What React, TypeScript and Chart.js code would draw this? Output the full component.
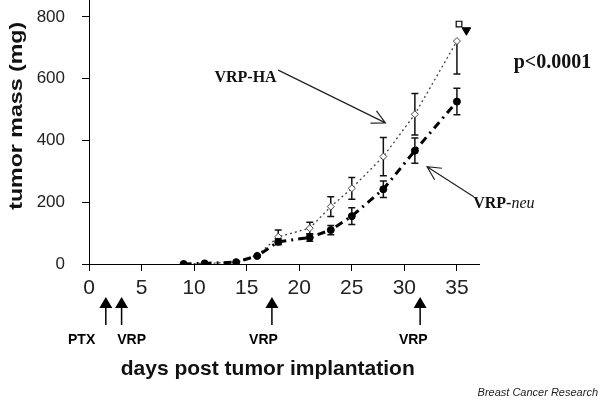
import React, { useEffect, useRef } from "react";
import { Chart, registerables } from "chart.js";

Chart.register(...registerables);

// ---- data ----
const days = [9, 11, 14, 16, 18, 21, 23, 25, 28, 31, 35];
const haMass = [0, 2, 5, 28, 88, 116, 186, 245, 348, 485, 722];
const haErrUp = [0, 0, 0, 0, 22, 19, 32, 35, 62, 67, 0];
const haErrDown = [0, 0, 0, 0, 22, 19, 32, 35, 62, 67, 107];
const neuMass = [0, 2, 6, 26, 72, 86, 110, 155, 242, 367, 526];
const neuErr = [0, 0, 0, 0, 10, 12, 15, 27, 27, 41, 43];

const squareMarker = [{ x: 35.2, y: 777 }];
const triangleMarker = [{ x: 35.9, y: 757 }];

const treatmentDays = [1.6, 3.1, 17.4, 31.5];
const treatmentLabels = ["PTX", "VRP", "VRP", "VRP"];
const treatmentLabelDays = [-0.7, 4.05, 16.6, 30.85];

const xTitle = "days post tumor implantation";
const yTitle = "tumor mass (mg)";
const pValueText = "p<0.0001";
const sourceText = "Breast Cancer Research";

// annotation anchors in data units [day, mass]
const haArrow = [18.0, 628, 28.2, 457];
const neuArrow = [36.6, 218, 32.16, 315];
const haLabelAt = [17.85, 589];
const neuLabelAt = [36.55, 181];
const pValueAt = [40.4, 635];

function drawArrow(ctx: CanvasRenderingContext2D, x1: number, y1: number, x2: number, y2: number) {
  const ang = Math.atan2(y1 - y2, x1 - x2);
  const len = 15;
  const spread = (27 * Math.PI) / 180;
  ctx.beginPath();
  ctx.moveTo(x1, y1);
  ctx.lineTo(x2, y2);
  ctx.moveTo(x2 + len * Math.cos(ang + spread), y2 + len * Math.sin(ang + spread));
  ctx.lineTo(x2, y2);
  ctx.lineTo(x2 + len * Math.cos(ang - spread), y2 + len * Math.sin(ang - spread));
  ctx.stroke();
}

const overlay = {
  id: "overlay",
  beforeDatasetsDraw(chart: any) {
    const ctx: CanvasRenderingContext2D = chart.ctx;
    const xs = chart.scales.x;
    const ys = chart.scales.y;
    ctx.save();
    ctx.strokeStyle = "#111";
    ctx.lineWidth = 1.5;
    const cap = 3.5;
    const bars = (mass: number[], up: number[], down: number[]) => {
      mass.forEach((m, i) => {
        if (!up[i] && !down[i]) return;
        const x = xs.getPixelForValue(days[i]);
        const yT = ys.getPixelForValue(m + up[i]);
        const yB = ys.getPixelForValue(m - down[i]);
        ctx.beginPath();
        ctx.moveTo(x, yT);
        ctx.lineTo(x, yB);
        if (up[i]) {
          ctx.moveTo(x - cap, yT);
          ctx.lineTo(x + cap, yT);
        }
        if (down[i]) {
          ctx.moveTo(x - cap, yB);
          ctx.lineTo(x + cap, yB);
        }
        ctx.stroke();
      });
    };
    bars(haMass, haErrUp, haErrDown);
    bars(neuMass, neuErr, neuErr);
    ctx.restore();
  },
  afterDraw(chart: any) {
    const ctx: CanvasRenderingContext2D = chart.ctx;
    const xs = chart.scales.x;
    const ys = chart.scales.y;
    const area = chart.chartArea;
    const px = (d: number) => xs.getPixelForValue(d);
    const py = (v: number) => ys.getPixelForValue(v);
    ctx.save();

    // arrows
    ctx.strokeStyle = "#222";
    ctx.lineWidth = 1.2;
    drawArrow(ctx, px(haArrow[0]), py(haArrow[1]), px(haArrow[2]), py(haArrow[3]));
    drawArrow(ctx, px(neuArrow[0]), py(neuArrow[1]), px(neuArrow[2]), py(neuArrow[3]));

    // serif labels
    ctx.fillStyle = "#111";
    ctx.textBaseline = "alphabetic";
    ctx.font = 'bold 16px "Liberation Serif", "Times New Roman", serif';
    ctx.textAlign = "right";
    ctx.fillText("VRP-HA", px(haLabelAt[0]), py(haLabelAt[1]));
    ctx.textAlign = "left";
    const nx = px(neuLabelAt[0]);
    const ny = py(neuLabelAt[1]);
    ctx.fillText("VRP-", nx, ny);
    const w1 = ctx.measureText("VRP-").width;
    ctx.font = 'italic 16px "Liberation Serif", "Times New Roman", serif';
    ctx.fillText("neu", nx + w1, ny);
    ctx.font = 'bold 20px "Liberation Serif", "Times New Roman", serif';
    ctx.fillText(pValueText, px(pValueAt[0]), py(pValueAt[1]));

    // treatment arrows below axis
    const b = area.bottom;
    ctx.fillStyle = "#000";
    ctx.strokeStyle = "#000";
    ctx.lineWidth = 1.5;
    treatmentDays.forEach((d) => {
      const x = px(d);
      ctx.beginPath();
      ctx.moveTo(x, b + 33);
      ctx.lineTo(x - 6.5, b + 44);
      ctx.lineTo(x + 6.5, b + 44);
      ctx.closePath();
      ctx.fill();
      ctx.beginPath();
      ctx.moveTo(x, b + 44);
      ctx.lineTo(x, b + 61);
      ctx.stroke();
    });
    ctx.font = 'bold 14px "Liberation Sans", Arial, sans-serif';
    ctx.textAlign = "center";
    ctx.textBaseline = "middle";
    treatmentLabels.forEach((t, i) => {
      ctx.fillText(t, px(treatmentLabelDays[i]), b + 76);
    });

    // x title
    ctx.fillStyle = "#111";
    ctx.font = 'bold 21px "Liberation Sans", Arial, sans-serif';
    ctx.textAlign = "center";
    ctx.textBaseline = "alphabetic";
    ctx.fillText(xTitle, px(17), b + 111);

    // y title (stretched along its length)
    ctx.save();
    ctx.font = 'bold 19px "Liberation Sans", Arial, sans-serif';
    const tw = ctx.measureText(yTitle).width;
    ctx.translate(17, py(480));
    ctx.rotate(-Math.PI / 2);
    ctx.scale(188 / tw, 1);
    ctx.textAlign = "center";
    ctx.textBaseline = "middle";
    ctx.fillText(yTitle, 0, 0);
    ctx.restore();

    // source caption
    ctx.font = 'italic 11px "Liberation Sans", Arial, sans-serif';
    ctx.textAlign = "right";
    ctx.textBaseline = "alphabetic";
    ctx.fillStyle = "#222";
    ctx.fillText(sourceText, 598, 396);

    ctx.restore();
  },
};

export default function App() {
  const ref = useRef<HTMLCanvasElement | null>(null);
  useEffect(() => {
    if (!ref.current) return;
    const chart = new Chart(ref.current, {
      type: "line",
      data: {
        datasets: [
          {
            label: "VRP-neu",
            data: days.map((d, i) => ({ x: d, y: neuMass[i] })),
            borderColor: "#000",
            borderWidth: 3,
            borderDash: [8, 5, 2, 5],
            pointStyle: "circle",
            pointRadius: 3.5,
            pointBackgroundColor: "#000",
            pointBorderColor: "#000",
            pointBorderWidth: 1,
            tension: 0,
            fill: false,
            order: 1,
          },
          {
            label: "VRP-HA",
            data: days.map((d, i) => ({ x: d, y: haMass[i] })),
            borderColor: "#444",
            borderWidth: 1.3,
            borderDash: [2, 3],
            pointStyle: "rectRot",
            pointRadius: 3.5,
            pointBackgroundColor: "#fff",
            pointBorderColor: "#444",
            pointBorderWidth: 1,
            tension: 0,
            fill: false,
            order: 2,
          },
          {
            type: "scatter",
            label: "square",
            data: squareMarker,
            pointStyle: "rect",
            pointRadius: 4,
            pointBackgroundColor: "#fff",
            pointBorderColor: "#000",
            pointBorderWidth: 1.2,
            order: 0,
          } as any,
          {
            type: "scatter",
            label: "triangle",
            data: triangleMarker,
            pointStyle: "triangle",
            rotation: 180,
            pointRadius: 5,
            pointBackgroundColor: "#000",
            pointBorderColor: "#000",
            pointBorderWidth: 1,
            order: 0,
          } as any,
        ],
      },
      options: {
        animation: false,
        responsive: false,
        devicePixelRatio: 1,
        layout: { autoPadding: false, padding: { left: 0, right: 121, top: 0, bottom: 0 } },
        plugins: {
          legend: { display: false },
          tooltip: { enabled: false },
          title: { display: false },
        },
        scales: {
          x: {
            type: "linear",
            position: "bottom",
            min: 0,
            max: 37.1,
            afterFit: (s: any) => {
              s.height = 140;
              s.paddingLeft = 0;
              s.paddingRight = 0;
            },
            ticks: {
              stepSize: 5,
              includeBounds: false,
              padding: 5,
              color: "#222",
              maxRotation: 0,
              autoSkip: false,
              font: { family: '"Liberation Sans", Arial, sans-serif', size: 21 },
            },
            grid: { drawOnChartArea: false, drawTicks: true, tickLength: 7, color: "#000", lineWidth: 1 },
            border: { display: true, color: "#000", width: 1 },
          },
          y: {
            type: "linear",
            position: "left",
            min: 0,
            max: 855,
            afterFit: (s: any) => {
              s.width = 89;
              s.paddingTop = 0;
              s.paddingBottom = 0;
            },
            ticks: {
              stepSize: 200,
              includeBounds: false,
              padding: 17,
              color: "#222",
              font: { family: '"Liberation Sans", Arial, sans-serif', size: 17 },
            },
            grid: { drawOnChartArea: false, drawTicks: true, tickLength: 7, color: "#000", lineWidth: 1 },
            border: { display: true, color: "#000", width: 1 },
          },
        },
      } as any,
      plugins: [overlay],
    });
    return () => chart.destroy();
  }, []);
  return (
    <div style={{ position: "absolute", left: 0, top: 0, width: 600, height: 404, background: "#fff" }}>
      <canvas ref={ref} width={600} height={404} style={{ display: "block" }} />
    </div>
  );
}
